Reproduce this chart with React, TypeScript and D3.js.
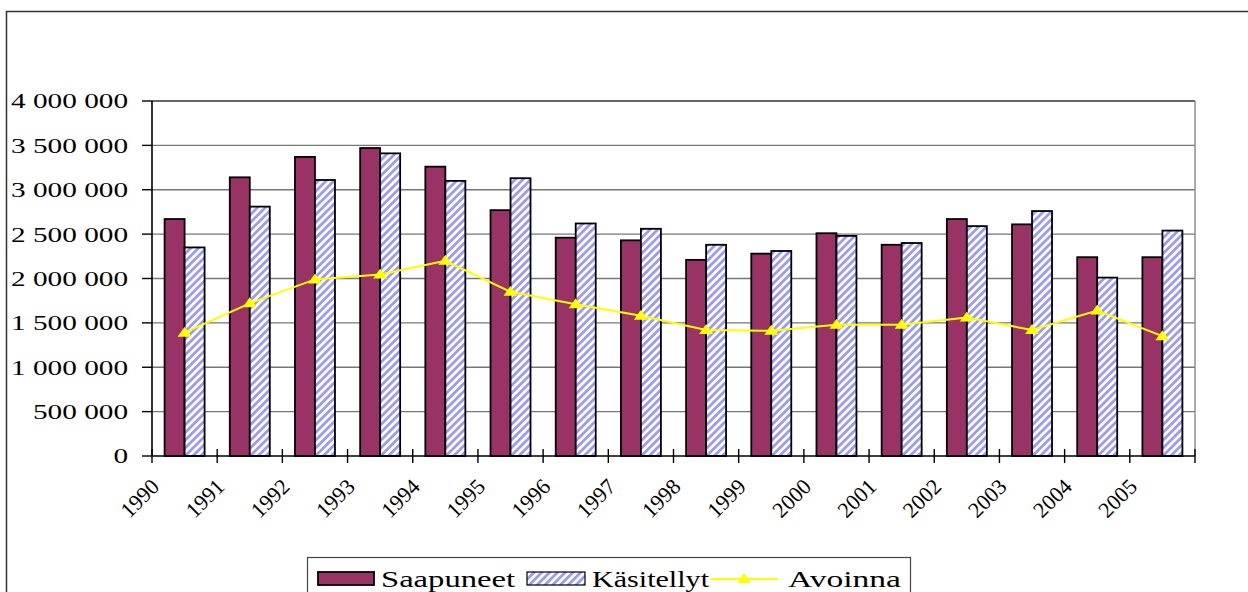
import React from 'react';
import * as d3 from 'd3';

const years = ['1990', '1991', '1992', '1993', '1994', '1995', '1996', '1997', '1998', '1999', '2000', '2001', '2002', '2003', '2004', '2005'];
const saapuneet = [2670000, 3140000, 3370000, 3470000, 3260000, 2770000, 2460000, 2430000, 2210000, 2280000, 2510000, 2380000, 2670000, 2610000, 2240000, 2240000];
const kasitellyt = [2350000, 2810000, 3110000, 3410000, 3100000, 3130000, 2620000, 2560000, 2380000, 2310000, 2480000, 2400000, 2590000, 2760000, 2010000, 2540000];
const avoinna = [1390000, 1720000, 1990000, 2045000, 2200000, 1850000, 1710000, 1580000, 1420000, 1410000, 1480000, 1480000, 1560000, 1420000, 1640000, 1350000];
const yTicks = [0, 500000, 1000000, 1500000, 2000000, 2500000, 3000000, 3500000, 4000000];
const seriesNames = ['Saapuneet', 'Käsitellyt', 'Avoinna'];

const W = 1248;
const H = 592;
const left = 152;
const right = 1195;
const top = 101;
const bottom = 456;
const SX = 1.33; // source image is stretched sideways
const font = '"Liberation Serif", "Times New Roman", serif';

const fmt = (v: number) => d3.format(',')(v).replace(/,/g, ' ');

const tri = (x: number, y: number) => `M${x},${y - 6}L${x + 7},${y + 4}L${x - 7},${y + 4}Z`;

export default function App() {
  const x0 = d3.scaleBand<string>().domain(years).range([left, right]).padding(0);
  const x1 = d3.scaleBand<string>().domain(['s', 'k']).range([0, 40]);
  const off = (x0.bandwidth() - 40) / 2;
  const y = d3.scaleLinear().domain([0, 4000000]).range([bottom, top]);
  const cx = (i: number) => x0(years[i])! + x0.bandwidth() / 2;

  const line = d3
    .line<number>()
    .x((_, i) => cx(i))
    .y((d) => y(d));

  return (
    <div style={{ position: 'fixed', left: 0, top: 0 }}>
      <svg width={W} height={H} style={{ display: 'block', background: '#fff' }}>
        <defs>
          <pattern id="hatch" width="5.5" height="5.5" patternUnits="userSpaceOnUse" patternTransform="rotate(45)">
            <rect width="5.5" height="5.5" fill="#ffffff" />
            <rect width="2.8" height="5.5" fill="#9b9bf5" />
          </pattern>
        </defs>

        {/* outer frame */}
        <path d={`M6.5,${H + 5}V11.5H${W + 5}`} fill="none" stroke="#333" strokeWidth={1.5} />

        {/* gridlines */}
        {yTicks.slice(1).map((t) => (
          <line key={t} x1={left} x2={right} y1={y(t)} y2={y(t)} stroke={t === 4000000 ? '#333' : '#777'} strokeWidth={1.4} />
        ))}
        <line x1={right} x2={right} y1={top} y2={bottom} stroke="#888" strokeWidth={1.4} />

        {/* bars */}
        {years.map((yr, i) => (
          <g key={yr} transform={`translate(${x0(yr)! + off},0)`}>
            <rect x={x1('s')} y={y(saapuneet[i])} width={x1.bandwidth()} height={bottom - y(saapuneet[i])} fill="#993366" stroke="#000" strokeWidth={1.8} />
            <rect x={x1('k')} y={y(kasitellyt[i])} width={x1.bandwidth()} height={bottom - y(kasitellyt[i])} fill="url(#hatch)" stroke="#000" strokeWidth={1.8} />
          </g>
        ))}

        {/* line */}
        <path d={line(avoinna)!} fill="none" stroke="#ffff00" strokeWidth={2} />
        {avoinna.map((v, i) => (
          <path key={i} d={tri(cx(i), y(v))} fill="#ffff00" />
        ))}

        {/* axes */}
        <line x1={left} x2={left} y1={top} y2={bottom} stroke="#000" strokeWidth={1.6} />
        <line x1={left} x2={right} y1={bottom} y2={bottom} stroke="#000" strokeWidth={1.6} />
        {yTicks.map((t) => (
          <g key={t}>
            <line x1={left - 10} x2={left} y1={y(t)} y2={y(t)} stroke="#000" strokeWidth={1.4} />
            <text transform={`translate(128,${y(t)}) scale(${SX},1)`} textAnchor="end" dy="0.34em" fontFamily={font} fontSize={22}>
              {fmt(t)}
            </text>
          </g>
        ))}
        {years.map((yr) => (
          <line key={yr} x1={x0(yr)!} x2={x0(yr)!} y1={bottom - 7} y2={bottom + 7} stroke="#000" strokeWidth={1.4} />
        ))}
        <line x1={right} x2={right} y1={bottom - 7} y2={bottom + 7} stroke="#000" strokeWidth={1.4} />
        {years.map((yr, i) => (
          <text key={yr} transform={`translate(${cx(i) - 24},488) rotate(-45)`} textAnchor="end" fontFamily={font} fontSize={22}>
            {yr}
          </text>
        ))}

        {/* legend */}
        <rect x={307.5} y={557.5} width={603} height={50} fill="#fff" stroke="#444" strokeWidth={1.2} />
        <rect x={318} y={572} width={56} height={13} fill="#993366" stroke="#000" strokeWidth={1.8} />
        <text x={381} y={587} fontFamily={font} fontSize={23} textLength={134} lengthAdjust="spacingAndGlyphs">
          {seriesNames[0]}
        </text>
        <rect x={527} y={572} width={58} height={13} fill="url(#hatch)" stroke="#000" strokeWidth={1.2} />
        <text x={592} y={587} fontFamily={font} fontSize={23} textLength={117} lengthAdjust="spacingAndGlyphs">
          {seriesNames[1]}
        </text>
        <line x1={711} x2={778} y1={579} y2={579} stroke="#ffff00" strokeWidth={2} />
        <path d={tri(744, 579)} fill="#ffff00" />
        <text x={788} y={587} fontFamily={font} fontSize={23} textLength={113} lengthAdjust="spacingAndGlyphs">
          {seriesNames[2]}
        </text>
      </svg>
    </div>
  );
}
